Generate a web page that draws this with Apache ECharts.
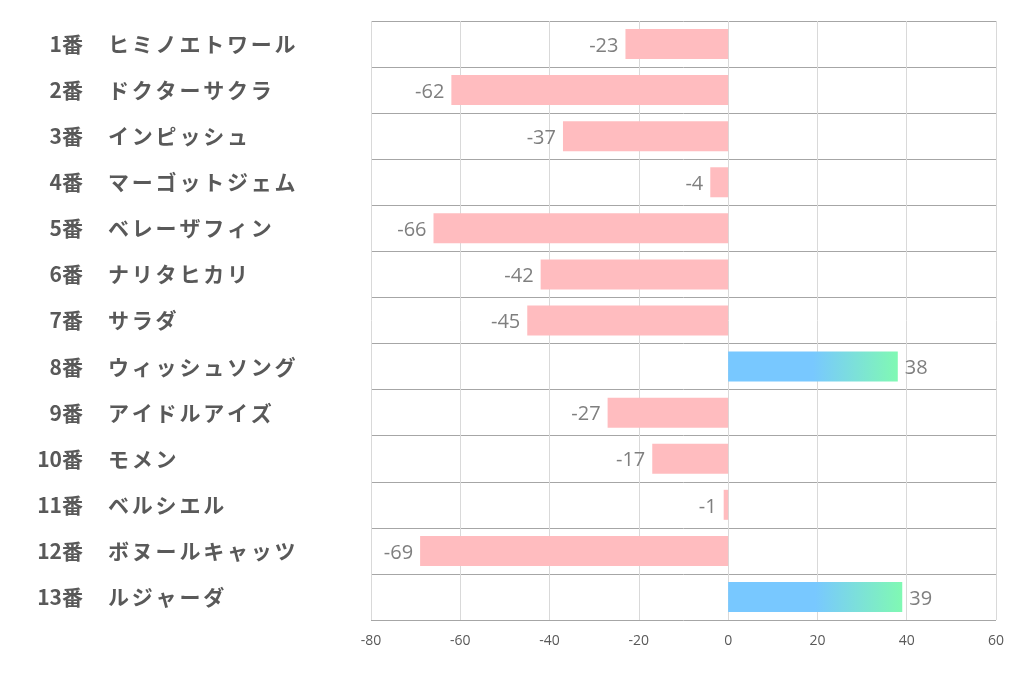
<!DOCTYPE html>
<html>
<head>
<meta charset="utf-8">
<script src="https://cdn.jsdelivr.net/npm/echarts@6/dist/echarts.min.js"></script>
<style>
html,body{margin:0;padding:0;background:#fff;}
#main{width:1022px;height:678px;}
</style>
</head>
<body>
<div id="main"></div>
<script>
const numbers = ['1番','2番','3番','4番','5番','6番','7番','8番','9番','10番','11番','12番','13番'];
const horses = ['ヒミノエトワール','ドクターサクラ','インピッシュ','マーゴットジェム','ベレーザフィン','ナリタヒカリ','サラダ','ウィッシュソング','アイドルアイズ','モメン','ベルシエル','ボヌールキャッツ','ルジャーダ'];
const values = [-23,-62,-37,-4,-66,-42,-45,38,-27,-17,-1,-69,39];
const xTicks = { min: -80, max: 60, interval: 20 };

const posColor = {
  type: 'linear', x: 0, y: 0, x2: 1, y2: 0,
  colorStops: [
    { offset: 0, color: '#78c8ff' },
    { offset: 0.5, color: '#78c8ff' },
    { offset: 1, color: '#80f9b3' }
  ]
};
const barData = values.map(v => ({
  value: v,
  itemStyle: { color: v >= 0 ? posColor : '#ffbcbf' },
  label: { position: v >= 0 ? 'right' : 'left' }
}));
const jpFont = 'Noto Sans CJK JP, sans-serif';

const chart = echarts.init(document.getElementById('main'));
chart.setOption({
  animation: false,
  grid: { left: 371, right: 26, top: 21, bottom: 58, containLabel: false },
  xAxis: {
    type: 'value',
    min: xTicks.min, max: xTicks.max, interval: xTicks.interval,
    axisLine: { show: false },
    axisTick: { show: false },
    axisLabel: { color: '#595959', fontSize: 14, margin: 14, fontFamily: 'Open Sans, Noto Sans, sans-serif' },
    splitLine: { show: true, lineStyle: { color: '#d9d9d9', width: 1 } }
  },
  yAxis: [{
    type: 'category',
    inverse: true,
    data: horses,
    position: 'left',
    axisLine: { show: false },
    axisTick: { show: false },
    splitLine: { show: true, lineStyle: { color: '#a6a6a6', width: 1 } },
    axisLabel: {
      margin: 263,
      align: 'left',
      formatter: function (v) {
        return Array.from(v).map(c => '{c|' + c + '}').join('');
      },
      rich: {
        c: { width: 23.8, fontSize: 21, fontWeight: 'bold', color: '#595959', fontFamily: jpFont }
      }
    }
  }, {
    type: 'category',
    inverse: true,
    data: numbers,
    position: 'left',
    axisLine: { show: false },
    axisTick: { show: false },
    splitLine: { show: false },
    axisLabel: {
      margin: 288,
      align: 'right',
      fontSize: 21, fontWeight: 'bold', color: '#595959', fontFamily: jpFont
    }
  }],
  series: [{
    type: 'bar',
    yAxisIndex: 0,
    data: barData,
    barWidth: 30,
    label: {
      show: true,
      color: '#7f7f7f',
      fontSize: 20,
      distance: 7,
      offset: [0, 2],
      fontFamily: 'Open Sans, Noto Sans, sans-serif'
    }
  }]
});
</script>
</body>
</html>
